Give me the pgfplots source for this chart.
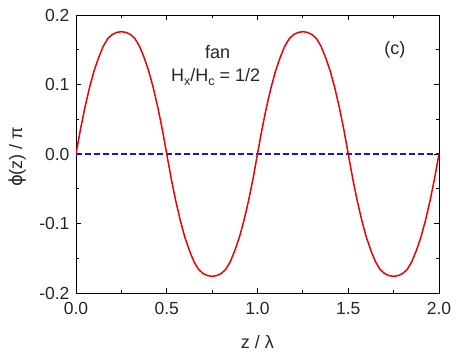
\documentclass[border=0pt]{standalone}
\usepackage{fontspec}
\setmainfont{Liberation Sans}
\newfontfamily\djv{DejaVu Sans}
\usepackage{pgfplots}
\pgfplotsset{compat=1.18}
\usetikzlibrary{calc}
\definecolor{curvered}{RGB}{240,0,0}
\definecolor{lineblue}{RGB}{20,20,230}
\newcommand{\lab}{\fontsize{17.5}{20}\selectfont}
\newcommand{\ann}{\fontsize{18}{21}\selectfont}
\begin{document}
\begin{tikzpicture}
\begin{axis}[
  scale only axis, width=363pt, height=278pt,
  xmin=0, xmax=2, ymin=-0.2, ymax=0.2,
  xtick={0,0.5,1,1.5,2}, ytick={-0.2,-0.1,0,0.1,0.2},
  minor x tick num=1, minor y tick num=1,
  tick align=inside, major tick length=5pt, minor tick length=3pt,
  axis line style={line width=0.9pt}, every tick/.style={black, line width=0.8pt},
  ticklabel style={font=\lab, text=black!85},
  /pgf/number format/assume math mode=true,
  /pgf/number format/fixed, /pgf/number format/fixed zerofill,
  /pgf/number format/precision=1,
  xticklabel style={yshift=-6pt},
  yticklabel style={xshift=-3pt},
  xlabel={z / λ}, ylabel={{\djv ϕ}(z) / π},
  label style={font=\ann, text=black!85},
  xlabel style={at={(axis description cs:0.5,-0.176)}, anchor=center},
  ylabel style={at={(axis description cs:-0.162,0.49)}, anchor=center},
]
\addplot[lineblue, line width=1.4pt, dash pattern=on 6pt off 3pt] coordinates {(0,0) (2,0)};
\addplot[curvered, line width=1.5pt] coordinates {
(0,0)(0.025,0.036)(0.05,0.068)(0.075,0.096)(0.1,0.120)(0.125,0.139)(0.15,0.155)(0.175,0.166)(0.2,0.172)(0.225,0.175)(0.25,0.176)(0.275,0.175)(0.3,0.172)(0.325,0.166)(0.35,0.155)(0.375,0.139)(0.4,0.120)(0.425,0.096)(0.45,0.068)(0.475,0.036)(0.5,0)
(0.525,-0.036)(0.55,-0.068)(0.575,-0.096)(0.6,-0.120)(0.625,-0.139)(0.65,-0.155)(0.675,-0.166)(0.7,-0.172)(0.725,-0.175)(0.75,-0.176)(0.775,-0.175)(0.8,-0.172)(0.825,-0.166)(0.85,-0.155)(0.875,-0.139)(0.9,-0.120)(0.925,-0.096)(0.95,-0.068)(0.975,-0.036)(1,0)
(1.025,0.036)(1.05,0.068)(1.075,0.096)(1.1,0.120)(1.125,0.139)(1.15,0.155)(1.175,0.166)(1.2,0.172)(1.225,0.175)(1.25,0.176)(1.275,0.175)(1.3,0.172)(1.325,0.166)(1.35,0.155)(1.375,0.139)(1.4,0.120)(1.425,0.096)(1.45,0.068)(1.475,0.036)(1.5,0)
(1.525,-0.036)(1.55,-0.068)(1.575,-0.096)(1.6,-0.120)(1.625,-0.139)(1.65,-0.155)(1.675,-0.166)(1.7,-0.172)(1.725,-0.175)(1.75,-0.176)(1.775,-0.175)(1.8,-0.172)(1.825,-0.166)(1.85,-0.155)(1.875,-0.139)(1.9,-0.120)(1.925,-0.096)(1.95,-0.068)(1.975,-0.036)(2,0)
};
\node[font=\ann, text=black!85] at (axis cs:0.78,0.147) {fan};
\node[font=\ann, text=black!85] at (axis cs:0.77,0.111)
  {H\raisebox{-0.4ex}{\fontsize{12.5}{13}\selectfont x}/H\raisebox{-0.4ex}{\fontsize{12.5}{13}\selectfont c} = 1/2};
\node[font=\ann, text=black!85] at (axis cs:1.757,0.150) {(c)};
\end{axis}
\pgfresetboundingbox
\path[use as bounding box] ($(current axis.south west)+(-76pt,-65pt)$) rectangle ($(current axis.north east)+(18pt,15pt)$);
\end{tikzpicture}
\end{document}
